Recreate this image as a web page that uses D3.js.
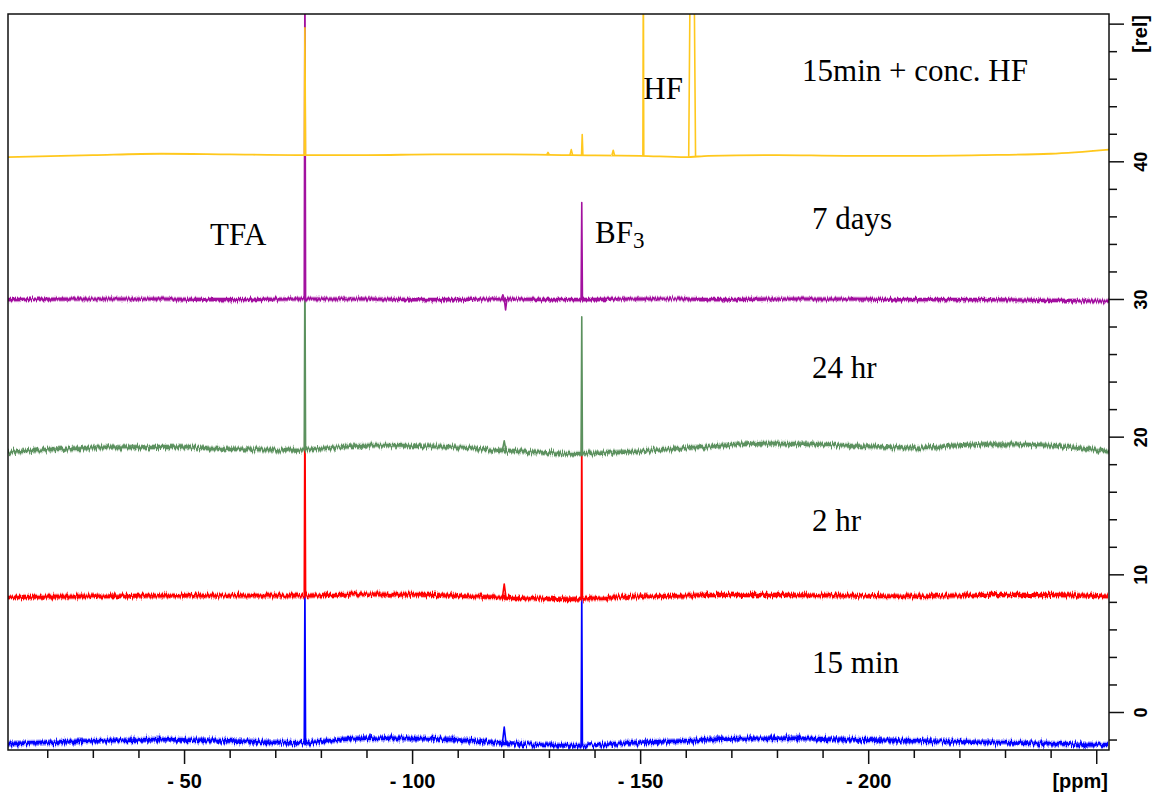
<!DOCTYPE html>
<html>
<head>
<meta charset="utf-8">
<title>19F NMR stack</title>
<script src="https://d3js.org/d3.v7.min.js"></script>
<style>
	body { margin: 0; background: #fff; }
	svg { display: block; }
	.tick text { font-family: "Liberation Sans", Arial, sans-serif; font-weight: bold; fill: #000; }
	.note { font-family: "Liberation Serif", "Times New Roman", serif; font-size: 31px; fill: #000; }
	.unit { font-family: "Liberation Sans", Arial, sans-serif; font-weight: bold; font-size: 20px; fill: #000; }
</style>
</head>
<body>
<div id="chart"></div>
<script>
	// ---- data (ppm / rel units) ----
	var baseAnchors = [-11.4, -30, -45, -60, -75, -90, -105, -120, -135, -150, -160, -165, -180, -195, -210, -225, -240, -252.8];

	var base15min  = [-2.3, -2.1, -2.0, -2.1, -2.25, -1.9, -1.95, -2.25, -2.45, -2.2, -2.1, -2.0, -1.9, -2.0, -2.1, -2.2, -2.3, -2.4];
	var base2hr    = [8.35, 8.4, 8.45, 8.45, 8.45, 8.55, 8.5, 8.3, 8.2, 8.4, 8.45, 8.5, 8.5, 8.45, 8.4, 8.5, 8.5, 8.4];
	var base24hr   = [18.85, 19.2, 19.25, 19.1, 19.05, 19.35, 19.3, 19.0, 18.75, 18.95, 19.15, 19.3, 19.5, 19.35, 19.2, 19.45, 19.35, 18.9];
	var base7days  = [29.95, 30.0, 30.0, 29.95, 30.0, 30.0, 29.95, 30.0, 29.95, 30.0, 30.0, 29.95, 30.0, 30.0, 29.95, 29.95, 29.9, 29.85];
	var baseHF     = [40.3, 40.45, 40.55, 40.5, 40.45, 40.45, 40.5, 40.5, 40.45, 40.4, 40.3, 40.4, 40.45, 40.4, 40.4, 40.45, 40.55, 40.85];

	// peaks: [ppm, top value, half width at top, foot]
	var peaks15min = [[-76.5, 9.5, 0, 0.15], [-120.2, -1.1, 0, 0.4], [-137.2, 9.0, 0, 0.15]];
	var peaks2hr   = [[-76.5, 23, 0, 0.15], [-120.2, 9.3, 0, 0.4], [-137.2, 20.5, 0, 0.15]];
	var peaks24hr  = [[-76.5, 33, 0, 0.15], [-120.2, 19.7, 0, 0.4], [-137.2, 28.7, 0, 0.15]];
	var peaks7days = [[-76.5, 55, 0, 0.15], [-119.9, 30.3, 0, 0.3], [-120.5, 29.2, 0, 0.3], [-137.2, 37.0, 0, 0.15]];
	var peaksHF    = [[-76.5, 49.7, 0, 0.15], [-129.8, 40.65, 0, 0.3], [-134.9, 40.85, 0, 0.3], [-137.3, 41.95, 0, 0.15],
	                  [-144.1, 40.8, 0, 0.3], [-150.7, 55, 0, 0.1], [-161.4, 55, 0.4, 0.35]];

	var seriesNames  = ["15 min", "2 hr", "24 hr", "7 days", "15min + conc. HF"];
	var seriesBase   = [base15min, base2hr, base24hr, base7days, baseHF];
	var seriesPeaks  = [peaks15min, peaks2hr, peaks24hr, peaks7days, peaksHF];
	var seriesColors = ["#0000ff", "#ff0000", "#5b915e", "#a2119f", "#ffc81e"];
	var seriesNoise  = [9, 8, 8, 6, 1.5];
	var seriesBand   = [6.5, 6, 6, 5, 0];

	// annotations: [text, ppm, value]
	var labels = [["15min + conc. HF", -185.5, 45.8], ["HF", -150.7, 44.55], ["7 days", -187.7, 35.05],
	              ["TFA", -55.7, 33.95], ["24 hr", -187.7, 24.25], ["2 hr", -187.7, 13.15], ["15 min", -187.7, 2.85]];
	var bfLabel = ["BF", "3", -140.1, 34.1];

	var xMajor = [-50, -100, -150, -200, -250];
	var xMinor = [-20, -30, -40, -60, -70, -80, -90, -110, -120, -130, -140, -160, -170, -180, -190, -210, -220, -230, -240];
	var yMajor = [0, 10, 20, 30, 40, 50];
	var yMinor = [-2, 2, 4, 6, 8, 12, 14, 16, 18, 22, 24, 26, 28, 32, 34, 36, 38, 42, 44, 46, 48];

	// ---- layout ----
	var width = 1152, height = 792;
	var plot = {left: 8, right: 1109, top: 14, bottom: 750};

	var x = d3.scaleLinear().domain([-11.4, -252.8]).range([plot.left, plot.right]);
	var y = d3.scaleLinear().domain([-2.76, 50.7]).range([plot.bottom, plot.top]);

	var svg = d3.select("#chart").append("svg")
		.attr("width", width)
		.attr("height", height);

	var defs = svg.append("defs");
	defs.append("clipPath").attr("id", "clip")
		.append("rect")
		.attr("x", plot.left).attr("y", plot.top)
		.attr("width", plot.right - plot.left).attr("height", plot.bottom - plot.top);

	// jagged look of the noisy baselines
	seriesNoise.forEach(function(s, i) {
		var f = defs.append("filter").attr("id", "noise" + i)
			.attr("filterUnits", "userSpaceOnUse")
			.attr("x", 0).attr("y", 0).attr("width", width).attr("height", height);
		f.append("feTurbulence")
			.attr("type", "fractalNoise")
			.attr("baseFrequency", "1.2 0.05")
			.attr("numOctaves", 2)
			.attr("seed", 4 + i)
			.attr("result", "t");
		f.append("feDisplacementMap")
			.attr("in", "SourceGraphic").attr("in2", "t")
			.attr("scale", s)
			.attr("xChannelSelector", "R").attr("yChannelSelector", "G");
	});

	var spectra = svg.append("g").attr("clip-path", "url(#clip)");

	var line = d3.line()
		.x(function(d) { return x(d[0]); })
		.y(function(d) { return y(d[1]); })
		.curve(d3.curveMonotoneX);

	var spike = d3.line()
		.x(function(d) { return x(d[0]); })
		.y(function(d) { return y(d[1]); });

	seriesNames.forEach(function(name, i) {
		var vals = seriesBase[i];
		var baseAt = d3.scaleLinear().domain(baseAnchors).range(vals);
		var pts = baseAnchors.map(function(p, j) { return [p, vals[j]]; });
		var g = spectra.append("g").attr("class", "spectrum");

		// soft noise band under the trace
		if (seriesBand[i] > 0) {
			g.append("path")
				.attr("d", line(pts))
				.attr("fill", "none")
				.attr("stroke", seriesColors[i])
				.attr("stroke-opacity", 0.35)
				.attr("stroke-width", seriesBand[i])
				.attr("filter", "url(#noise" + i + ")");
		}

		g.append("path")
			.attr("d", line(pts))
			.attr("fill", "none")
			.attr("stroke", seriesColors[i])
			.attr("stroke-width", i == 4 ? 1.8 : (i == 3 ? 3.2 : 3.8))
			.attr("filter", "url(#noise" + i + ")");

		g.selectAll(".peak")
			.data(seriesPeaks[i])
			.enter().append("path")
			.attr("class", "peak")
			.attr("fill", "none")
			.attr("stroke", seriesColors[i])
			.attr("stroke-width", 1.6)
			.attr("stroke-linejoin", "round")
			.attr("d", function(d) {
				var b = baseAt(d[0]);
				return spike([
					[d[0] + d[2] + d[3], b],
					[d[0] + d[2], d[1]],
					[d[0] - d[2], d[1]],
					[d[0] - d[2] - d[3], baseAt(d[0] - d[2] - d[3])]
				]);
			});
	});

	// frame
	svg.append("rect")
		.attr("x", plot.left).attr("y", plot.top)
		.attr("width", plot.right - plot.left).attr("height", plot.bottom - plot.top)
		.attr("fill", "none")
		.attr("stroke", "#111")
		.attr("stroke-width", 1.5);

	// x axis
	var xMinorAxis = svg.append("g")
		.attr("transform", "translate(0," + plot.bottom + ")")
		.call(d3.axisBottom(x).tickValues(xMinor).tickSize(8).tickFormat(""));
	var xMajorAxis = svg.append("g")
		.attr("transform", "translate(0," + plot.bottom + ")")
		.call(d3.axisBottom(x).tickValues(xMajor).tickSize(14)
			.tickFormat(function(d) { return d == -250 ? "" : "- " + Math.abs(d); }));
	xMajorAxis.selectAll("text")
		.attr("y", 38).attr("dy", 0)
		.style("font-size", "20px");

	svg.append("text").attr("class", "unit")
		.attr("x", plot.right - 1).attr("y", 788)
		.attr("text-anchor", "end")
		.text("[ppm]");

	// y axis (right)
	var yMinorAxis = svg.append("g")
		.attr("transform", "translate(" + plot.right + ",0)")
		.call(d3.axisRight(y).tickValues(yMinor).tickSize(8).tickFormat(""));
	var yMajorAxis = svg.append("g")
		.attr("transform", "translate(" + plot.right + ",0)")
		.call(d3.axisRight(y).tickValues(yMajor).tickSize(15)
			.tickFormat(function(d) { return d == 50 ? "" : d; }));
	yMajorAxis.selectAll("text")
		.attr("transform", "rotate(-90)")
		.attr("text-anchor", "middle")
		.attr("x", 0).attr("y", 38).attr("dy", 0)
		.style("font-size", "18px");

	svg.append("text").attr("class", "unit")
		.attr("transform", "translate(" + (plot.right + 38) + "," + (plot.top + 1) + ") rotate(-90)")
		.attr("text-anchor", "end")
		.text("[rel]");

	[xMinorAxis, xMajorAxis, yMinorAxis, yMajorAxis].forEach(function(a) {
		a.select(".domain").remove();
		a.selectAll("line").attr("stroke", "#111").attr("stroke-width", 1.5);
	});

	// annotations
	svg.selectAll(".note.plain")
		.data(labels)
		.enter().append("text")
		.attr("class", "note plain")
		.attr("x", function(d) { return x(d[1]); })
		.attr("y", function(d) { return y(d[2]); })
		.text(function(d) { return d[0]; });

	var bf = svg.append("text").attr("class", "note")
		.attr("x", x(bfLabel[2]))
		.attr("y", y(bfLabel[3]));
	bf.append("tspan").text(bfLabel[0]);
	bf.append("tspan").attr("dy", 5).style("font-size", "23px").text(bfLabel[1]);
</script>
</body>
</html>
